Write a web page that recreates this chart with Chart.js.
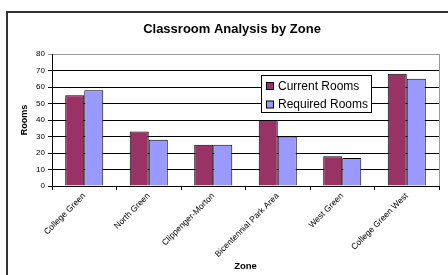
<!DOCTYPE html>
<html>
<head>
<meta charset="utf-8">
<script src="https://cdn.jsdelivr.net/npm/chart.js@4.4.1/dist/chart.umd.min.js"></script>
<style>
html,body{margin:0;padding:0;background:#fff;}
canvas{display:block;}
</style>
</head>
<body>
<canvas id="c" width="448" height="275"></canvas>
<script>
const chartTitle = "Classroom Analysis by Zone";
const categories = ["College Green", "North Green", "Clippenger-Morton", "Bicentennial Park Area", "West Green", "College Green West"];
const currentRooms = [55, 33, 25, 40, 18, 68];
const requiredRooms = [58, 28, 25, 30, 17, 65];
const seriesNames = ["Current Rooms", "Required Rooms"];
const seriesColors = ["#993366", "#9999FF"];
const yTicks = [0, 10, 20, 30, 40, 50, 60, 70, 80];
const xTitle = "Zone";
const yTitle = "Rooms";

const FONT = "'Liberation Sans', Arial, sans-serif";

const decor = {
  id: 'decor',
  beforeDraw(chart) {
    const ctx = chart.ctx;
    ctx.save();
    ctx.fillStyle = '#fff';
    ctx.fillRect(0, 0, chart.width, chart.height);
    ctx.strokeStyle = '#333';
    ctx.lineWidth = 2;
    ctx.beginPath();
    ctx.moveTo(7, chart.height + 5);
    ctx.lineTo(7, 12);
    ctx.lineTo(chart.width + 5, 12);
    ctx.stroke();
    // title
    ctx.fillStyle = '#000';
    ctx.font = "bold 13px " + FONT;
    ctx.textAlign = 'center';
    ctx.textBaseline = 'middle';
    ctx.fillText(chartTitle, 232, 29);
    ctx.restore();
  },
  beforeDatasetsDraw(chart) {
    const ctx = chart.ctx, a = chart.chartArea;
    ctx.save();
    ctx.strokeStyle = '#999';
    ctx.lineWidth = 1;
    ctx.beginPath();
    ctx.moveTo(Math.round(a.right) + 0.5, a.top);
    ctx.lineTo(Math.round(a.right) + 0.5, a.bottom);
    ctx.stroke();
    ctx.restore();
  },
  afterDatasetsDraw(chart) {
    const ctx = chart.ctx;
    ctx.save();
    const bx = 261.5, by = 75.5, bw = 110, bh = 37;
    ctx.fillStyle = '#fff';
    ctx.fillRect(bx, by, bw, bh);
    ctx.strokeStyle = '#000';
    ctx.lineWidth = 1;
    ctx.strokeRect(bx, by, bw, bh);
    ctx.font = "12px " + FONT;
    ctx.textAlign = 'left';
    ctx.textBaseline = 'middle';
    chart.data.datasets.forEach((ds, i) => {
      const sy = 82.5 + i * 18.5;
      ctx.fillStyle = ds.backgroundColor;
      ctx.fillRect(266.5, sy, 7, 7);
      ctx.strokeRect(266.5, sy, 7, 7);
      ctx.fillStyle = '#000';
      ctx.fillText(ds.label, 278, sy + 4);
    });
    ctx.restore();
  }
};

new Chart(document.getElementById('c'), {
  type: 'bar',
  data: {
    labels: categories,
    datasets: [
      { label: seriesNames[0], data: currentRooms, backgroundColor: seriesColors[0], borderColor: '#000', borderWidth: 1 },
      { label: seriesNames[1], data: requiredRooms, backgroundColor: seriesColors[1], borderColor: '#000', borderWidth: 1 }
    ]
  },
  options: {
    responsive: false,
    animation: false,
    devicePixelRatio: 1,
    layout: { padding: { left: 0, right: 9, top: 54, bottom: 0 } },
    datasets: { bar: { categoryPercentage: 0.59, barPercentage: 1 } },
    plugins: { legend: { display: false }, title: { display: false }, tooltip: { enabled: false } },
    scales: {
      x: {
        afterFit(s) { s.height = 89; },
        grid: { drawOnChartArea: false, drawTicks: true, tickLength: 4, offset: true, color: '#000' },
        border: { color: '#000', width: 1 },
        ticks: { autoSkip: false, maxRotation: 45, minRotation: 45, padding: 1, color: '#000', font: { family: FONT, size: 8.5 } },
        title: { display: true, text: xTitle, color: '#000', font: { family: FONT, size: 9.5, weight: 'bold' }, padding: { top: 0, bottom: 3 } }
      },
      y: {
        afterFit(s) { s.width = 52; },
        min: 0, max: 80,
        afterBuildTicks(s) { s.ticks = yTicks.map(v => ({ value: v })); },
        grid: { color: (c) => (c.tick && c.tick.value === 80) ? '#999' : '#000', tickLength: 4, drawTicks: true },
        border: { color: '#000', width: 1 },
        ticks: { padding: 3, color: '#000', font: { family: FONT, size: 8 } },
        title: { display: true, text: yTitle, color: '#000', font: { family: FONT, size: 9, weight: 'bold' }, padding: { top: 19, bottom: 0 } }
      }
    }
  },
  plugins: [decor]
});
</script>
</body>
</html>
